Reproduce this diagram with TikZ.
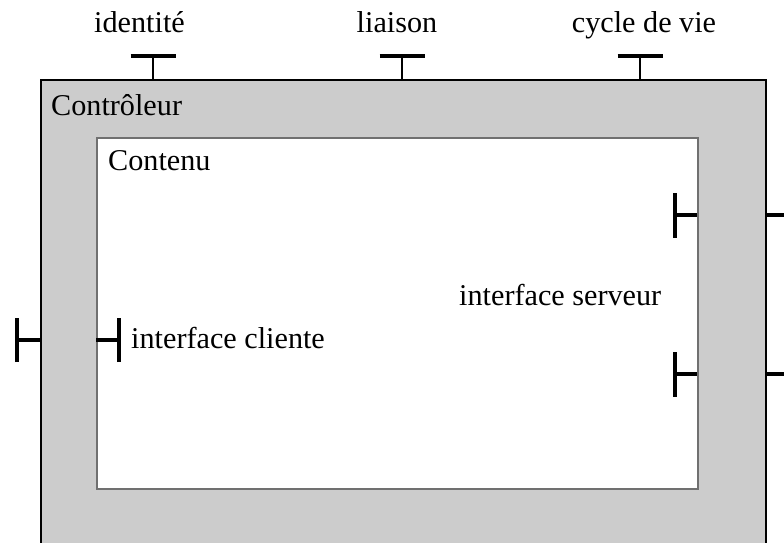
\documentclass[tikz,border=0pt]{standalone}
\usepackage{fontspec}
\setmainfont{Liberation Serif}
\definecolor{ctrlgray}{HTML}{CCCCCC}
\definecolor{edgegray}{HTML}{707070}
\begin{document}
\begin{tikzpicture}[x=1pt,y=-1pt,
  lbl/.style={font=\fontsize{30.2}{33}\selectfont, inner sep=0pt},
  portline/.style={line width=3.2pt, line cap=butt},
  stemline/.style={line width=2pt}]
\useasboundingbox (0,0) rectangle (784,543);
\clip (0,0) rectangle (784,543);
% controller membrane
\node[draw=black, fill=ctrlgray, line width=1.5pt, minimum width=725pt, minimum height=500pt, anchor=north west, inner sep=0pt] (ctrl) at (40,79) {};
% content
\node[draw=edgegray, fill=white, line width=1.5pt, minimum width=601pt, minimum height=351pt, anchor=north west, inner sep=0pt] (cont) at (96,137) {};
% labels
\node[lbl, anchor=base west] (lctrl) at (51,115) {Contrôleur};
\node[lbl, anchor=base west] (lcont) at (108,170) {Contenu};
\node[lbl, anchor=base] (lid) at (139.5,33) {identité};
\node[lbl, anchor=base] (lli) at (397,33) {liaison};
\node[lbl, anchor=base] (lcy) at (644,33) {cycle de vie};
\node[lbl, anchor=base west] (lsrv) at (459,305) {interface serveur};
\node[lbl, anchor=base west] (lcli) at (131,348) {interface cliente};
% control interfaces (top)
\foreach \n/\x in {id/153, li/402, cy/640} {
  \coordinate (\n b) at (\x,79);
  \coordinate (\n t) at (\x,56);
  \draw[stemline] (\n b) -- (\n t);
  \draw[portline] ([xshift=-22.5pt]\n t) -- ([xshift=22.5pt]\n t);
}
% client interfaces (left)
\coordinate (co) at (40,340);
\coordinate (cob) at (17,340);
\draw[portline] (co) -- (cob);
\draw[portline] ([yshift=-22pt]cob) -- ([yshift=22pt]cob);
\coordinate (ci) at (96,340);
\coordinate (cib) at (119,340);
\draw[portline] (ci) -- (cib);
\draw[portline] ([yshift=-22pt]cib) -- ([yshift=22pt]cib);
% server interfaces (right)
\foreach \n/\y in {s1/215, s2/374} {
  \coordinate (\n i) at (697,\y);
  \coordinate (\n b) at (675,\y);
  \draw[portline] (\n i) -- (\n b);
  \draw[portline] ([yshift=-22.5pt]\n b) -- ([yshift=22.5pt]\n b);
  \coordinate (\n o) at (765,\y);
  \coordinate (\n e) at (790,\y);
  \draw[portline] (\n o) -- (\n e);
}
\end{tikzpicture}
\end{document}
